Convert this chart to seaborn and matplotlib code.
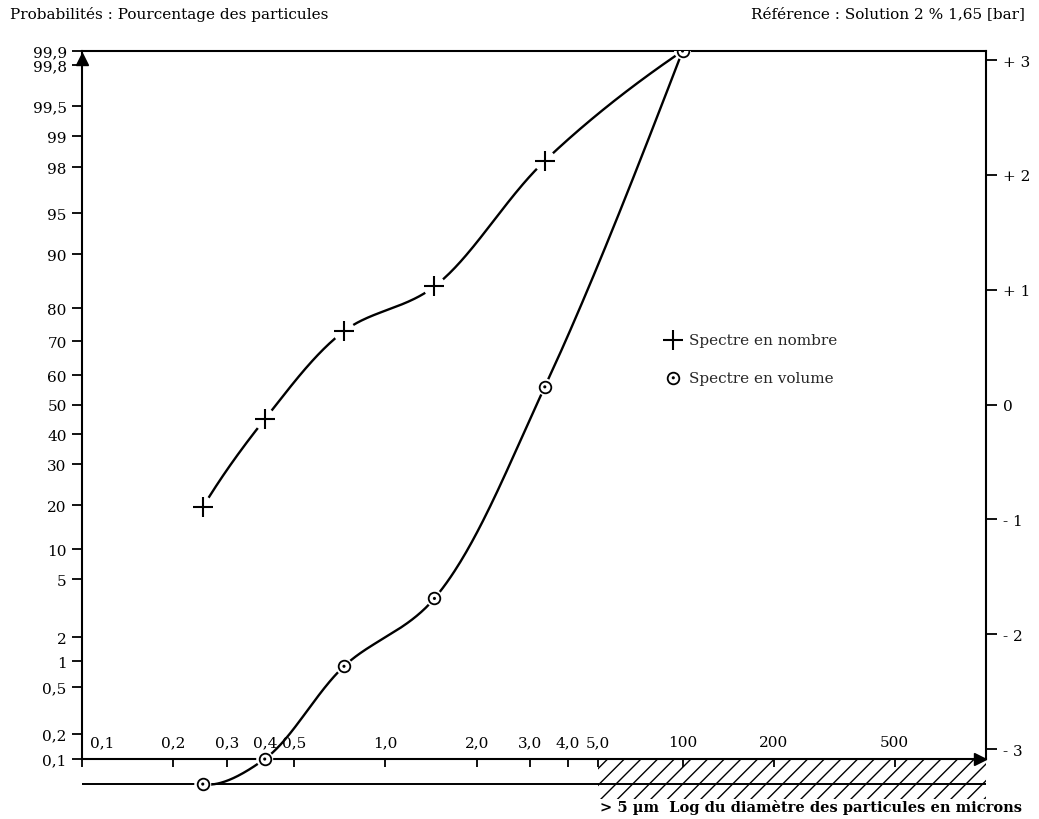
import numpy as np
import pandas as pd
import matplotlib
matplotlib.use("Agg")
import matplotlib.pyplot as plt
import matplotlib.transforms as mtransforms
import seaborn as sns

# ---------------- data ----------------
diam_nombre = [0.25, 0.40, 0.73, 1.45, 3.35, 100]
pct_nombre = [19.5, 45, 73, 84, 98.2, 99.9]
diam_volume = [0.25, 0.40, 0.73, 1.45, 3.35, 100]
pct_volume = [0.0, 0.1, 0.9, 4.0, 56, 99.9]

x_ticks = [0.1, 0.2, 0.3, 0.4, 0.5, 1.0, 2.0, 3.0, 4.0, 5.0, 100, 200, 500]
x_labels = ["0,1", "0,2", "0,3", "0,4", "0,5", "1,0", "2,0", "3,0", "4,0", "5,0", "100", "200", "500"]
y_ticks = [0.1, 0.2, 0.5, 1, 2, 5, 10, 20, 30, 40, 50, 60, 70, 80, 90, 95, 98, 99, 99.5, 99.8, 99.9]
y_labels = ["0,1", "0,2", "0,5", "1", "2", "5", "10", "20", "30", "40", "50", "60", "70", "80",
            "90", "95", "98", "99", "99,5", "99,8", "99,9"]
sigma_ticks = [-3, -2, -1, 0, 1, 2, 3]
sigma_labels = ["- 3", "- 2", "- 1", "0", "+ 1", "+ 2", "+ 3"]

# hand-drawn probability scale of the original paper: percentage -> sigma units
SCALE_PCT = np.array([0, 0.1, 0.2, 0.5, 1, 2, 5, 10, 20, 30, 40, 50, 60, 70, 80, 90, 95, 98, 99, 99.5, 99.8, 99.9])
SCALE_SIG = np.array([-3.305, -3.087, -2.870, -2.461, -2.234, -2.025, -1.520, -1.259, -0.875, -0.518,
                      -0.257, 0.0, 0.257, 0.553, 0.840, 1.311, 1.668, 2.068, 2.338, 2.599, 2.957, 3.079])

def _interp_ext(v, xp, fp):
    v = np.asarray(v, dtype=float)
    shape = v.shape
    v = np.atleast_1d(v).ravel()
    out = np.interp(v, xp, fp)
    lo = v < xp[0]
    hi = v > xp[-1]
    out[lo] = fp[0] + (v[lo] - xp[0]) * (fp[1] - fp[0]) / (xp[1] - xp[0])
    out[hi] = fp[-1] + (v[hi] - xp[-1]) * (fp[-1] - fp[-2]) / (xp[-1] - xp[-2])
    return out.reshape(shape)

def y_fwd(p):
    return _interp_ext(p, SCALE_PCT, SCALE_SIG)

def y_inv(s):
    return _interp_ext(s, SCALE_SIG, SCALE_PCT)

# broken log axis: 0.1 .. 5 then jump to 100 .. 1000
GAP = 0.28
_LX = np.array([-1.0, np.log10(5), 2.0, 3.0])
_LP = np.array([-1.0, np.log10(5), np.log10(5) + GAP, np.log10(5) + GAP + 1.0])

def x_fwd(d):
    d = np.clip(np.asarray(d, dtype=float), 1e-12, None)
    return _interp_ext(np.log10(d), _LX, _LP)

def x_inv(u):
    return 10 ** _interp_ext(u, _LP, _LX)

# ---------------- figure ----------------
sns.set_theme(style="white")
plt.rcParams["font.family"] = ["DejaVu Serif", "DejaVu Sans"]
plt.rcParams["hatch.linewidth"] = 1.0

W, H = 1039, 820
fig = plt.figure(figsize=(W / 100, H / 100), dpi=100)
ax_left, ax_right, ax_top, ax_bot = 82, 986, 52, 800
ax = fig.add_axes([ax_left / W, 1 - ax_bot / H, (ax_right - ax_left) / W, (ax_bot - ax_top) / H])
ax.set_facecolor("white")
ax.set_xscale("function", functions=(x_fwd, x_inv))
ax.set_yscale("function", functions=(y_fwd, y_inv))
ax.set_xlim(0.1, 1000)
ax.set_ylim(float(y_inv(-3.435)), 99.9)

# smooth hand-drawn style curves through the points (computed in display-like units)
def catmull(pts, n=60):
    first = 3 * pts[0] - 3 * pts[1] + pts[2]
    last = 3 * pts[-1] - 3 * pts[-2] + pts[-3]
    P = np.vstack([first, pts, last])
    out = []
    for i in range(1, len(P) - 2):
        p0, p1, p2, p3 = P[i - 1:i + 3]
        t0 = 0.0
        t1 = t0 + np.linalg.norm(p1 - p0) ** 0.5
        t2 = t1 + np.linalg.norm(p2 - p1) ** 0.5
        t3 = t2 + np.linalg.norm(p3 - p2) ** 0.5
        t = np.linspace(t1, t2, n)[:, None]
        A1 = (t1 - t) / (t1 - t0) * p0 + (t - t0) / (t1 - t0) * p1
        A2 = (t2 - t) / (t2 - t1) * p1 + (t - t1) / (t2 - t1) * p2
        A3 = (t3 - t) / (t3 - t2) * p2 + (t - t2) / (t3 - t2) * p3
        B1 = (t2 - t) / (t2 - t0) * A1 + (t - t0) / (t2 - t0) * A2
        B2 = (t3 - t) / (t3 - t1) * A2 + (t - t1) / (t3 - t1) * A3
        out.append((t2 - t) / (t2 - t1) * B1 + (t - t1) / (t2 - t1) * B2)
    return np.vstack(out)

def smooth_series(diam, pct):
    pts = np.column_stack([x_fwd(diam) * 304.0, y_fwd(pct) * 115.0])
    c = catmull(pts)
    return x_inv(c[:, 0] / 304.0), y_inv(c[:, 1] / 115.0)

for dd, pp in [(diam_nombre, pct_nombre), (diam_volume, pct_volume)]:
    sx, sy = smooth_series(dd, pp)
    ax.plot(sx, sy, color="black", lw=1.7, zorder=2, solid_capstyle="round")

df_n = pd.DataFrame({"d": diam_nombre[:-1], "p": pct_nombre[:-1]})
df_v = pd.DataFrame({"d": diam_volume, "p": pct_volume})

# white halos (gaps of the hand-drawn lines around the symbols)
sns.scatterplot(data=df_n, x="d", y="p", marker="o", s=260, color="white", edgecolor="none",
                ax=ax, zorder=3, legend=False)
sns.scatterplot(data=df_v, x="d", y="p", marker="o", s=150, color="white", edgecolor="none",
                ax=ax, zorder=3, legend=False)
h_plus = sns.scatterplot(data=df_n, x="d", y="p", marker="+", s=200, color="black",
                         linewidth=1.5, ax=ax, zorder=4, legend=False).collections[-1]
h_circ = sns.scatterplot(data=df_v, x="d", y="p", marker="o", s=70, facecolor="white",
                         edgecolor="black", linewidth=1.3, ax=ax, zorder=4, legend=False).collections[-1]
h_dot = sns.scatterplot(data=df_v, x="d", y="p", marker="o", s=5, color="black",
                        edgecolor="none", ax=ax, zorder=5, legend=False).collections[-1]

# hatched zone "> 5 µm" under the axis
ylo = ax.get_ylim()[0]
ax.fill_between([5.0, 1000], ylo, 0.1, facecolor="none", edgecolor="black", hatch="//",
                linewidth=0, zorder=1)

# zero line under the axis
ax.axhline(0.0, color="black", lw=1.4, zorder=2)

# spines
for side in ["left", "right", "top", "bottom"]:
    ax.spines[side].set_color("black")
    ax.spines[side].set_linewidth(1.5)
ax.spines["left"].set_bounds(0.1, 99.9)
ax.spines["right"].set_bounds(0.1, 99.9)
ax.spines["bottom"].set_position(("data", 0.1))
ax.spines["left"].set_zorder(6)

# arrows
ax.plot([0], [99.84], marker="^", color="black", ms=8, transform=ax.get_yaxis_transform(),
        clip_on=False, zorder=7)
ax.plot([0.993], [0.1], marker=">", color="black", ms=8, transform=ax.get_yaxis_transform(),
        clip_on=False, zorder=7)

# ticks
ax.set_yticks(y_ticks)
ax.set_yticklabels(y_labels)
ax.minorticks_off()
ax.tick_params(axis="y", left=True, right=False, direction="out", length=7, width=1.3,
               pad=4, labelsize=11, colors="black")
ax.set_xticks(x_ticks)
ax.set_xticklabels(x_labels)
ax.tick_params(axis="x", bottom=True, top=False, direction="out", length=6, width=1.3,
               pad=-23, labelsize=11, colors="black")
tl = ax.get_xticklabels()
tl[0].set_ha("left")
tl[0].set_transform(tl[0].get_transform() + mtransforms.ScaledTranslation(6 / 72, 0, fig.dpi_scale_trans))

ax.set_xlabel("")
ax.set_ylabel("")

# right sigma axis
ax2 = ax.twinx()
ax2.set_ylim(float(y_fwd(ax.get_ylim()[0])), float(y_fwd(ax.get_ylim()[1])))
for side in ["left", "right", "top", "bottom"]:
    ax2.spines[side].set_visible(False)
ax2.set_yticks(sigma_ticks)
ax2.set_yticklabels(sigma_labels)
ax2.tick_params(axis="y", right=True, left=False, direction="out", length=8, width=1.3,
                pad=4, labelsize=11, colors="black")
ax2.grid(False)
ax.grid(False)

# legend
leg = ax.legend(handles=[h_plus, (h_circ, h_dot)], labels=["Spectre en nombre", "Spectre en volume"],
                frameon=False, loc="upper left", bbox_to_anchor=(658 / W, 1 - 328 / H),
                bbox_transform=fig.transFigure, fontsize=11, handletextpad=0.4,
                labelspacing=1.55, handlelength=1.2, borderaxespad=0)

# texts
fig.text(10 / W, 1 - 14 / H, "Probabilités : Pourcentage des particules", ha="left", va="center",
         fontsize=11, color="black")
fig.text(1025 / W, 1 - 14 / H, "Référence : Solution 2 % 1,65 [bar]", ha="right", va="center",
         fontsize=11, color="black")
fig.text(1022 / W, 1 - 808 / H, "> 5 µm  Log du diamètre des particules en microns", ha="right",
         va="center", fontsize=10.5, fontweight="bold", color="black")

fig.savefig("out.png", dpi=100, facecolor="white")
